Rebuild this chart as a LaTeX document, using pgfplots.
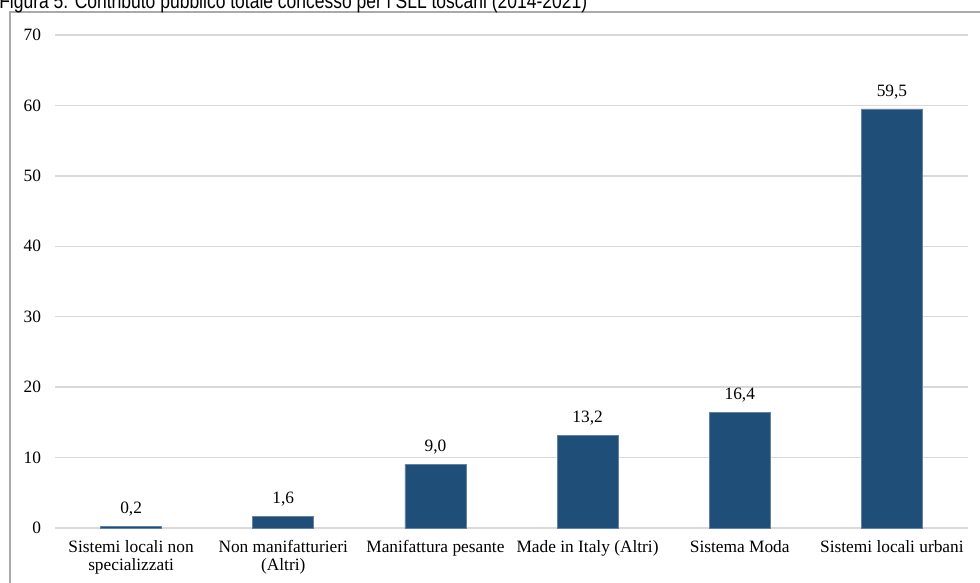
\documentclass[border=0pt]{standalone}
\usepackage{pgfplots}
\pgfplotsset{compat=1.18}
\usepackage{fontspec}
\setmainfont{Liberation Serif}
\newfontfamily\titlefont[FakeStretch=0.82]{Liberation Sans}
\definecolor{barblue}{RGB}{31,78,121}
\definecolor{gridgray}{RGB}{217,217,217}
\definecolor{framegray}{RGB}{170,170,170}
\begin{document}
\begin{tikzpicture}[x=0.75pt,y=0.75pt]
\useasboundingbox (0,0) rectangle (980,582);
\draw[framegray,line width=1pt] (10,-5) rectangle (985,570);
\node[anchor=base west,inner sep=0pt,font=\titlefont\fontsize{16pt}{18pt}\selectfont] at (-1,573) {Figura 5. Contributo pubblico totale concesso per i SLL toscani (2014-2021)};
\begin{axis}[
  at={(41.25pt,40.5pt)}, anchor=south west,
  scale only axis, width=684.75pt, height=369.75pt,
  xmin=-0.5, xmax=5.5, ymin=0, ymax=70,
  ytick={0,10,...,70},
  xtick={0,1,2,3,4,5},
  xticklabels={{Sistemi locali non\\specializzati},{Non manifatturieri\\(Altri)},{Manifattura pesante},{Made in Italy (Altri)},{Sistema Moda},{Sistemi locali urbani}},
  xticklabel style={align=center, font=\fontsize{13pt}{13pt}\selectfont, yshift=-6pt},
  yticklabel style={font=\fontsize{13pt}{14pt}\selectfont},
  /pgf/number format/assume math mode=true,
  axis line style={draw=none},
  major tick length=0pt,
  ymajorgrids, grid style={gridgray, line width=1pt},
  yticklabel shift=7pt,
  ybar, bar width=45.75pt,
  nodes near coords,
  every node near coord/.append style={font=\fontsize{13pt}{14pt}\selectfont, yshift=4pt, /pgf/number format/.cd, fixed, fixed zerofill, precision=1, use comma},
  clip=false,
]
\addplot[fill=barblue, draw=barblue!70!white, line width=0.5pt] coordinates {(0,0.2) (1,1.6) (2,9.0) (3,13.2) (4,16.4) (5,59.5)};
\end{axis}
\end{tikzpicture}
\end{document}
